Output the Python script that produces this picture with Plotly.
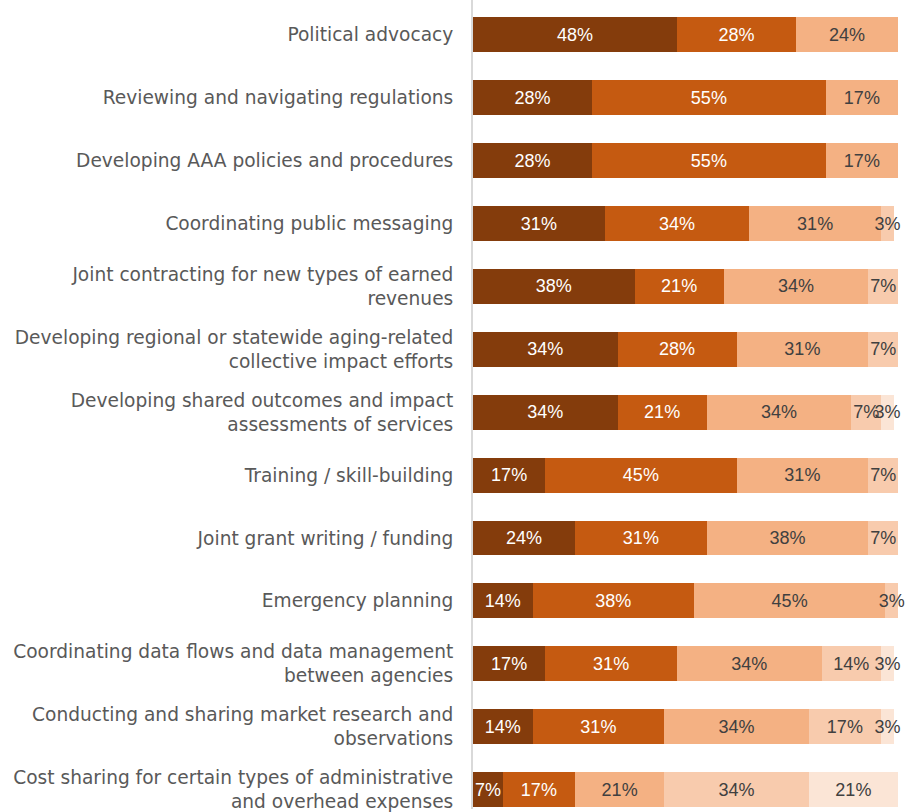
import plotly.graph_objects as go

categories = [
    "Political advocacy",
    "Reviewing and navigating regulations",
    "Developing AAA policies and procedures",
    "Coordinating public messaging",
    "Joint contracting for new types of earned<br>revenues",
    "Developing regional or statewide aging-related<br>collective impact efforts",
    "Developing shared outcomes and impact<br>assessments of services",
    "Training / skill-building",
    "Joint grant writing / funding",
    "Emergency planning",
    "Coordinating data flows and data management<br>between agencies",
    "Conducting and sharing market research and<br>observations",
    "Cost sharing for certain types of administrative<br>and overhead expenses",
]

level_1 = [48, 28, 28, 31, 38, 34, 34, 17, 24, 14, 17, 14, 7]
level_2 = [28, 55, 55, 34, 21, 28, 21, 45, 31, 38, 31, 31, 17]
level_3 = [24, 17, 17, 31, 34, 31, 34, 31, 38, 45, 34, 34, 21]
level_4 = [0, 0, 0, 3, 7, 7, 7, 7, 7, 3, 14, 17, 34]
level_5 = [0, 0, 0, 0, 0, 0, 3, 0, 0, 0, 3, 3, 21]

series = [level_1, level_2, level_3, level_4, level_5]
colors = ["#843C0C", "#C55A11", "#F4B183", "#F8CBAD", "#FBE5D6"]
text_colors = ["#FFFFFF", "#FFFFFF", "#404040", "#404040", "#404040"]

fig = go.Figure()
for vals, col, tcol in zip(series, colors, text_colors):
    fig.add_trace(go.Bar(
        y=categories,
        x=vals,
        orientation="h",
        marker=dict(color=col, line=dict(width=0)),
        text=[f"{v}%" if v > 0 else "" for v in vals],
        textposition="inside",
        insidetextanchor="middle",
        textangle=0,
        constraintext="none",
        cliponaxis=False,
        textfont=dict(family="Liberation Sans, Arial, sans-serif", size=18, color=tcol),
        hoverinfo="skip",
    ))

n = len(categories)
fig.update_layout(
    barmode="stack",
    bargap=0.445,
    width=905,
    height=812,
    margin=dict(l=473, r=7, t=0, b=0),
    paper_bgcolor="white",
    plot_bgcolor="white",
    showlegend=False,
    xaxis=dict(range=[0, 100], visible=False, fixedrange=True),
    yaxis=dict(
        type="category",
        range=[n - 1 + 0.309, -0.555],
        showline=True,
        linecolor="#D9D9D9",
        linewidth=2,
        showgrid=False,
        ticks="",
        ticklabelstandoff=14,
        tickfont=dict(family="DejaVu Sans, sans-serif", size=18.6, color="#595959"),
    ),
)

fig.write_html("out.html")
